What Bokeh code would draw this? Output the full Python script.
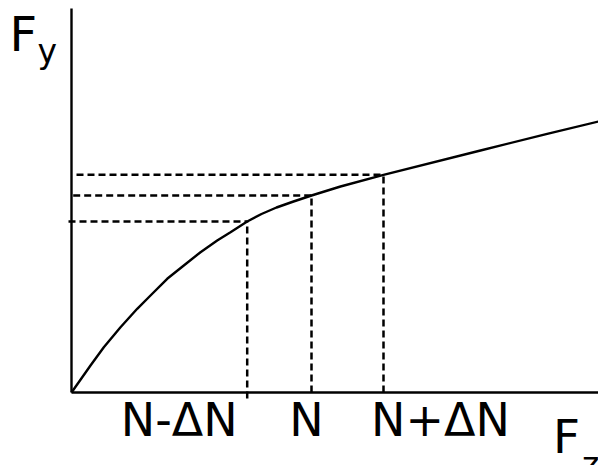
from bokeh.plotting import figure
from bokeh.models import Range1d, Label
from bokeh.embed import file_html
from bokeh.resources import INLINE

# Curve (arbitrary units: Fz horizontal, Fy vertical)
fz = [0, 1.9, 3.23, 4.9, 6.57, 7.9, 9.57, 11.23, 12.9, 14.57, 15.9, 17.57,
      19.0, 20.5, 22.2, 24.0, 26.9, 31.2, 40.9, 47.57, 52.7]
fy = [0, 2.7, 4.53, 6.53, 8.37, 9.7, 11.37, 12.7, 14.03, 15.2, 16.03, 17.1,
      17.85, 18.5, 19.1, 19.7, 20.6, 21.77, 24.2, 25.87, 27.1]

# Marked loads N-ΔN, N, N+ΔN and the corresponding Fy
mark_fz = [17.57, 24.0, 31.2]
mark_fy = [17.1, 19.7, 21.77]
mark_labels = ["N-\u0394N", "N", "N+\u0394N"]

# axis extents
fz_max = 52.7
fy_max = 38.4

# ends of the dashed guides
h_start = [-0.3, 0.17, 0.5]
v_start = [-0.6, 0.0, 0.0]

W, H = 598, 465
p = figure(width=W, height=H, output_backend="svg", toolbar_location=None,
           x_range=Range1d(-7.1, 52.7), y_range=Range1d(-7.3, 39.2),
           min_border=0)
p.background_fill_color = "white"
p.border_fill_color = "white"
p.outline_line_color = None
p.grid.visible = False
p.axis.visible = False

# axis lines
p.segment(x0=[0, 0], y0=[0, 0], x1=[fz_max, 0], y1=[0, fy_max],
          line_color="black", line_width=2.4)

# curve
p.line(fz, fy, line_color="black", line_width=2.4)

# dashed guides
p.segment(x0=h_start, y0=mark_fy, x1=mark_fz, y1=mark_fy,
          line_color="black", line_width=2.5, line_dash="7 4")
p.segment(x0=mark_fz, y0=v_start, x1=mark_fz, y1=mark_fy,
          line_color="black", line_width=2.5, line_dash="7 4")

FONT = "DejaVu Sans"
# labels below the axis
label_offsets = [-68, -5, 57]
for xv, txt, off in zip(mark_fz, mark_labels, label_offsets):
    p.add_layout(Label(x=xv, y=-2.7, text=txt, text_align="center",
                       text_baseline="alphabetic", x_offset=off,
                       text_font=FONT, text_font_size="46px",
                       text_color="black"))

# axis titles
p.add_layout(Label(x=-6.2, y=35.9, text="F", text_font=FONT,
                   text_font_size="48px", text_baseline="alphabetic",
                   text_align="left", text_color="black"))
p.add_layout(Label(x=-3.4, y=34.1, text="y", text_font=FONT,
                   text_font_size="33px", text_baseline="alphabetic",
                   text_align="left", text_color="black"))
p.add_layout(Label(x=48.14, y=-4.36, text="F", text_font=FONT,
                   text_font_size="47px", text_baseline="alphabetic",
                   text_align="left", text_color="black"))
p.add_layout(Label(x=51.04, y=-7.15, text="z", text_font=FONT,
                   text_font_size="33px", text_baseline="alphabetic",
                   text_align="left", text_color="black"))

open("out.html", "w").write(file_html(p, INLINE))
